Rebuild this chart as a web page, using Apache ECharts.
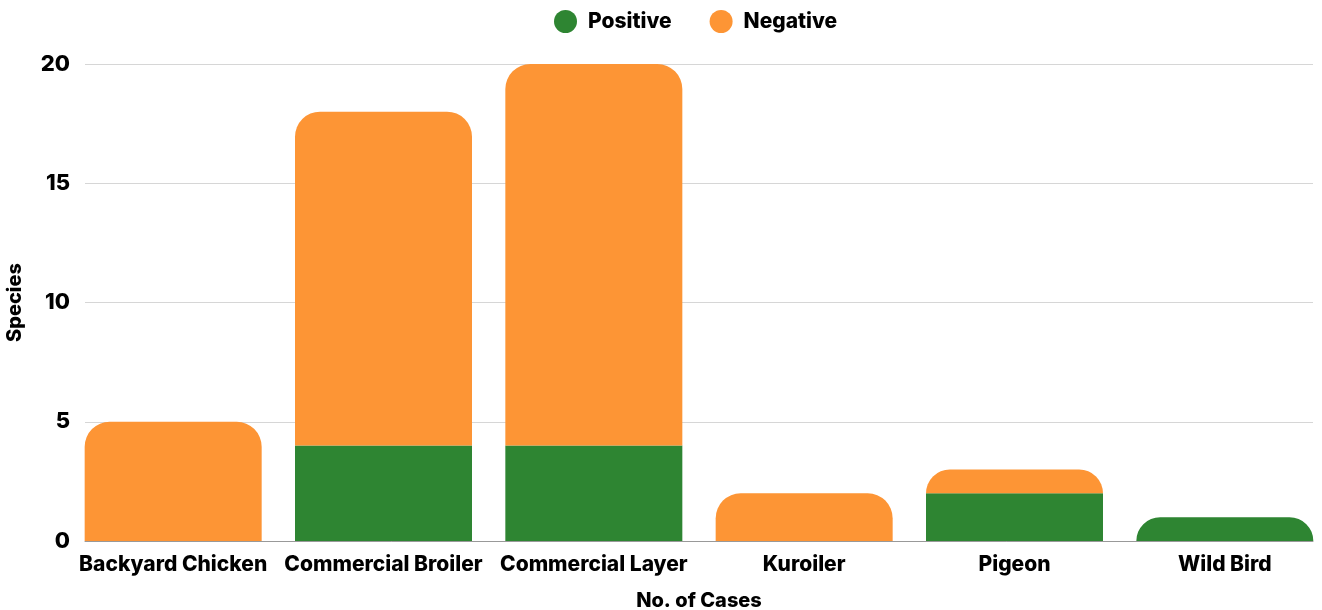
<!DOCTYPE html>
<html>
<head>
<meta charset="utf-8">
<script src="https://cdn.jsdelivr.net/npm/echarts@6/dist/echarts.min.js"></script>
<style>
  html, body { margin: 0; padding: 0; background: #fff; }
  #chart { width: 1322px; height: 610px; }
</style>
</head>
<body>
<div id="chart"></div>
<script>
// species along the x axis
const categories = ['Backyard Chicken', 'Commercial Broiler', 'Commercial Layer', 'Kuroiler', 'Pigeon', 'Wild Bird']
const positiveValues = [0, 4, 4, 0, 2, 1]
const negativeValues = [5, 14, 16, 2, 1, 0]
const yTicks = [0, 5, 10, 15, 20]

const GREEN = '#2e8532'
const ORANGE = '#fd9535'
const FONT = 'Inter, "Liberation Sans", Arial, sans-serif'
const R = 25
const LABEL = { fontSize: 21, fontWeight: 800, color: '#000', fontFamily: FONT }

const chart = echarts.init(document.getElementById('chart'))

// rounded corners only on the top segment of each stack
const posData = positiveValues.map((v, i) => ({
  value: v,
  itemStyle: { borderRadius: negativeValues[i] === 0 ? [R, R, 0, 0] : 0 }
}))
const negData = negativeValues.map((v) => ({
  value: v,
  itemStyle: { borderRadius: [R, R, 0, 0] }
}))

chart.setOption({
  animation: false,
  textStyle: { fontFamily: FONT },
  legend: {
    top: 5,
    left: 549,
    icon: 'circle',
    itemWidth: 23,
    itemHeight: 23,
    itemGap: 38,
    textStyle: Object.assign({}, LABEL, { padding: [0, 0, 0, 6] }),
    data: ['Positive', 'Negative']
  },
  // grid 0: gridlines + axis line, grid 1: the bars (slightly wider, like the original)
  grid: [
    { left: 85, right: 9, top: 64, bottom: 69, outerBoundsMode: 'none' },
    { left: 68, right: -8, top: 64, bottom: 69, outerBoundsMode: 'none' }
  ],
  xAxis: [
    {
      gridIndex: 0,
      type: 'category',
      data: categories,
      axisTick: { show: false },
      axisLabel: { show: false },
      axisLine: { lineStyle: { color: '#999' } },
      name: 'No. of Cases',
      nameLocation: 'middle',
      nameGap: 50,
      nameTextStyle: Object.assign({}, LABEL, { fontSize: 20 })
    },
    {
      gridIndex: 1,
      type: 'category',
      data: categories,
      axisTick: { show: false },
      axisLine: { show: false },
      axisLabel: Object.assign({ margin: 13, interval: 0 }, LABEL)
    }
  ],
  yAxis: [
    {
      gridIndex: 0,
      type: 'value',
      min: yTicks[0],
      max: yTicks[yTicks.length - 1],
      interval: 5,
      name: 'Species',
      nameLocation: 'middle',
      nameGap: 60,
      nameTextStyle: Object.assign({}, LABEL, { fontSize: 20 }),
      axisLabel: Object.assign({ margin: 15 }, LABEL, { fontSize: 22 }),
      splitLine: { lineStyle: { color: '#d6d6d6' } }
    },
    {
      gridIndex: 1,
      type: 'value',
      min: yTicks[0],
      max: yTicks[yTicks.length - 1],
      interval: 5,
      axisLabel: { show: false },
      splitLine: { show: false }
    }
  ],
  series: [
    {
      name: 'Positive',
      type: 'bar',
      stack: 'total',
      xAxisIndex: 1,
      yAxisIndex: 1,
      barWidth: 177,
      itemStyle: { color: GREEN },
      data: posData
    },
    {
      name: 'Negative',
      type: 'bar',
      stack: 'total',
      xAxisIndex: 1,
      yAxisIndex: 1,
      barWidth: 177,
      itemStyle: { color: ORANGE },
      data: negData
    }
  ]
})
</script>
</body>
</html>
